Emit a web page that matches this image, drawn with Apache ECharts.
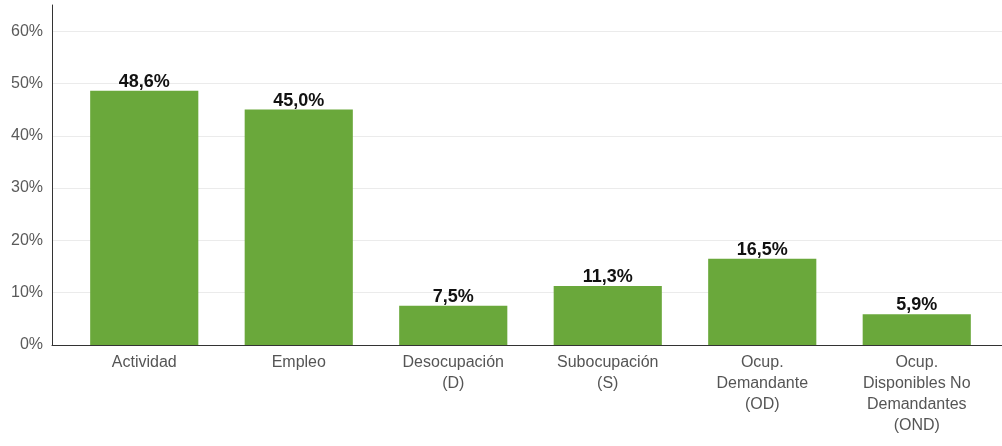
<!DOCTYPE html>
<html>
<head>
<meta charset="utf-8">
<script src="https://cdn.jsdelivr.net/npm/echarts@6/dist/echarts.min.js"></script>
<style>html,body{margin:0;padding:0;background:#fff}#c{width:1002px;height:446px}</style>
</head>
<body>
<div id="c"></div>
<script>
const categories = ['Actividad', 'Empleo', 'Desocupación\n(D)', 'Subocupación\n(S)', 'Ocup.\nDemandante\n(OD)', 'Ocup.\nDisponibles No\nDemandantes\n(OND)'];
const values = [48.6, 45.0, 7.5, 11.3, 16.5, 5.9];
const yTicks = { min: 0, max: 65, interval: 10 };

const chart = echarts.init(document.getElementById('c'), null, { renderer: 'canvas' });
const font = "'Liberation Sans', Arial, sans-serif";
chart.setOption({
  animation: false,
  textStyle: { fontFamily: font },
  grid: [
    { left: 52, right: 0, top: 5, bottom: 101 },
    { left: 67, right: 8, top: 5, bottom: 101 }
  ],
  xAxis: [
    { type: 'value', gridIndex: 0, min: 0, max: 1, axisLine: { show: true, onZero: false, lineStyle: { color: '#333', width: 1 } }, axisTick: { show: false }, axisLabel: { show: false }, splitLine: { show: false } },
    { type: 'category', gridIndex: 1, data: categories, axisLine: { show: false }, axisTick: { show: false },
      axisLabel: { color: '#555', fontSize: 16, fontFamily: font, lineHeight: 21, margin: 7, interval: 0 } }
  ],
  yAxis: [
    { type: 'value', gridIndex: 0, min: yTicks.min, max: yTicks.max, interval: yTicks.interval,
      axisLine: { show: true, lineStyle: { color: '#333', width: 1 } }, axisTick: { show: false },
      axisLabel: { color: '#5a5a5a', fontSize: 16, fontFamily: font, margin: 9, showMaxLabel: false, formatter: v => v + '%' },
      splitLine: { show: true, showMaxLine: false, lineStyle: { color: '#ebebeb', width: 1 } } },
    { type: 'value', gridIndex: 1, min: yTicks.min, max: yTicks.max, interval: yTicks.interval, show: false, splitLine: { show: false } }
  ],
  series: [{
    type: 'bar', xAxisIndex: 1, yAxisIndex: 1, data: values, barCategoryGap: '30%',
    itemStyle: { color: '#6aa83b' },
    label: { show: true, position: 'top', distance: 0, color: '#111', fontWeight: 'bold', fontSize: 18, fontFamily: font,
      formatter: p => p.value.toFixed(1).replace('.', ',') + '%' }
  }]
});
</script>
</body>
</html>
